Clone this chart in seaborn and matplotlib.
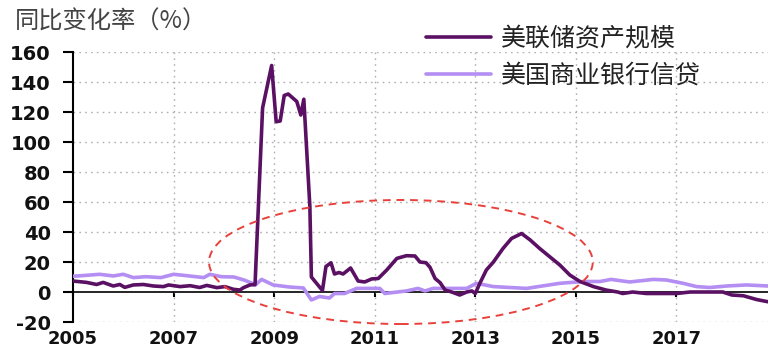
import numpy as np
import pandas as pd
import matplotlib
matplotlib.use("Agg")
import matplotlib.pyplot as plt
from matplotlib.patches import Ellipse
import seaborn as sns

# ---- data (fractional year, % yoy) ----
fed_years = [2005.0, 2005.27, 2005.47, 2005.6, 2005.8, 2005.93, 2006.03, 2006.2, 2006.4, 2006.6,
             2006.8, 2006.9, 2007.13, 2007.33, 2007.52, 2007.66, 2007.86, 2008.02, 2008.19, 2008.32,
             2008.39, 2008.52, 2008.62, 2008.77, 2008.95, 2009.04, 2009.12, 2009.2, 2009.28, 2009.45,
             2009.53, 2009.59, 2009.71, 2009.74, 2009.96, 2010.03, 2010.13, 2010.2, 2010.29, 2010.37,
             2010.52, 2010.67, 2010.8, 2010.94, 2011.07, 2011.24, 2011.44, 2011.63, 2011.8, 2011.9,
             2012.02, 2012.1, 2012.2, 2012.3, 2012.4, 2012.53, 2012.69, 2012.83, 2012.93, 2013.0,
             2013.09, 2013.22, 2013.36, 2013.55, 2013.72, 2013.92, 2014.09, 2014.28, 2014.48, 2014.68,
             2014.88, 2015.08, 2015.35, 2015.6, 2015.83, 2015.93, 2016.13, 2016.4, 2017.0, 2017.27,
             2017.92, 2018.1, 2018.33, 2018.59, 2018.82]
fed_vals = [7.3, 6.4, 5.0, 6.4, 4.0, 5.0, 3.1, 4.7, 5.0, 4.0,
            3.6, 4.7, 3.6, 4.2, 3.0, 4.4, 2.9, 3.6, 1.8, 1.3,
            2.9, 4.7, 5.0, 122.7, 151.0, 113.5, 114.0, 131.0, 132.0, 127.0,
            118.0, 128.5, 57.0, 10.0, 1.0, 17.0, 19.5, 12.0, 13.0, 12.0,
            16.0, 7.3, 6.7, 8.7, 9.0, 14.7, 22.4, 24.2, 24.0, 20.0,
            19.5, 16.4, 9.0, 6.2, 1.3, 0.0, -2.0, 0.0, 0.7, -1.0,
            5.8, 14.7, 20.0, 29.0, 35.7, 39.0, 34.7, 29.0, 23.5, 18.0,
            11.3, 7.0, 3.6, 1.3, 0.0, -1.0, 0.0, -1.0, -1.0, 0.0,
            0.0, -2.0, -2.5, -5.0, -6.5]

credit_years = [2005.0, 2005.34, 2005.53, 2005.8, 2006.0, 2006.2, 2006.45, 2006.75, 2007.0, 2007.2,
                2007.6, 2007.72, 2007.95, 2008.2, 2008.4, 2008.55, 2008.62, 2008.75, 2008.9, 2008.98,
                2009.31, 2009.58, 2009.74, 2009.9, 2010.1, 2010.2, 2010.4, 2010.64, 2011.1, 2011.2,
                2011.63, 2011.86, 2012.0, 2012.16, 2012.83, 2013.02, 2013.36, 2014.02, 2014.68, 2015.15,
                2015.48, 2015.7, 2015.87, 2016.07, 2016.54, 2016.8, 2017.13, 2017.4, 2017.66, 2018.0,
                2018.39, 2018.82]
credit_vals = [10.5, 11.3, 11.8, 10.7, 11.8, 9.6, 10.2, 9.6, 11.8, 11.1,
               9.6, 11.8, 10.2, 10.0, 8.0, 6.0, 4.5, 8.4, 6.0, 4.7,
               3.3, 2.7, -5.3, -3.0, -4.0, -1.0, -1.0, 2.4, 2.4, -1.0,
               0.7, 2.4, 0.7, 2.4, 2.4, 5.8, 3.6, 2.4, 5.8, 7.0,
               7.0, 8.4, 7.6, 6.7, 8.4, 8.0, 5.8, 3.6, 3.0, 4.0,
               4.7, 4.0]

series_names = ["美联储资产规模", "美国商业银行信贷"]
y_ticks = [-20, 0, 20, 40, 60, 80, 100, 120, 140, 160]
x_ticks = [2005, 2007, 2009, 2011, 2013, 2015, 2017]
title_text = "同比变化率（%）"

df = pd.concat([
    pd.DataFrame({"year": fed_years, "value": fed_vals, "series": series_names[0]}),
    pd.DataFrame({"year": credit_years, "value": credit_vals, "series": series_names[1]}),
])

sns.set_theme(style="white")
plt.rcParams["font.family"] = ["Noto Sans CJK SC", "DejaVu Sans"]

W, H = 768, 349
fig = plt.figure(figsize=(W / 100, H / 100), dpi=100)
ax = fig.add_axes([73 / W, 27 / H, (W - 73) / W, 270 / H])

dark = "#5b1163"
light = "#b48ef2"

sns.lineplot(data=df[df.series == series_names[1]], x="year", y="value", ax=ax,
             color=light, lw=2.6, sort=False, label=series_names[1], zorder=3)
sns.lineplot(data=df[df.series == series_names[0]], x="year", y="value", ax=ax,
             color=dark, lw=2.6, sort=False, label=series_names[0], zorder=4)

ax.set_xlim(2005, 2018.82)
ax.set_ylim(-20, 160)
ax.set_xlabel("")
ax.set_ylabel("")

# grid
for yv in y_ticks:
    if yv != 0:
        ax.axhline(yv, color="#b0b0b0", lw=1.0, ls=(0, (1.2, 3)), zorder=1)
for xv in x_ticks[1:]:
    ax.axvline(xv, color="#b0b0b0", lw=1.0, ls=(0, (1.2, 3)), zorder=1)

# spines
for s in ["top", "right"]:
    ax.spines[s].set_visible(False)
ax.spines["left"].set_color("black")
ax.spines["left"].set_linewidth(1.5)
ax.spines["bottom"].set_position(("data", 0))
ax.spines["bottom"].set_color("black")
ax.spines["bottom"].set_linewidth(1.2)
ax.spines["bottom"].set_zorder(2)

ax.set_yticks(y_ticks)
ax.set_yticklabels([str(v) for v in y_ticks])
ax.set_xticks(x_ticks)
ax.set_xticklabels([str(v) for v in x_ticks])
ax.tick_params(axis="y", direction="out", length=7, width=1.5, color="black", pad=9,
               left=True)
ax.tick_params(axis="x", direction="out", length=3.5, width=1.5, color="black", pad=23.5,
               bottom=True)
for lab in ax.get_yticklabels():
    lab.set_fontfamily("DejaVu Sans")
    lab.set_fontweight("bold")
    lab.set_fontsize(14)
    lab.set_color("#111111")
for lab in ax.get_xticklabels():
    lab.set_fontfamily("DejaVu Sans")
    lab.set_fontweight("bold")
    lab.set_fontsize(13)
    lab.set_color("#111111")

# dashed ellipse highlight
ell = Ellipse((2011.52, 20), width=7.63, height=82.7, fill=False, ec="#e8413c",
              ls=(0, (4, 3)), lw=1.4, clip_on=False, zorder=5)
ax.add_patch(ell)

# title
fig.text(15 / W, 1 - 22 / H, title_text, fontsize=17.5, color="#444444", va="center", ha="left")

# legend
handles, labels = ax.get_legend_handles_labels()
order = [labels.index(series_names[0]), labels.index(series_names[1])]
leg = ax.legend([handles[i] for i in order], [labels[i] for i in order],
                loc="upper left", bbox_to_anchor=(403 / W, 1 - 3 / H),
                bbox_transform=fig.transFigure, frameon=False, fontsize=18,
                handlelength=2.6, handletextpad=0.4, labelspacing=0.45)
for t in leg.get_texts():
    t.set_color("#222222")

fig.savefig("out.png", dpi=100)
